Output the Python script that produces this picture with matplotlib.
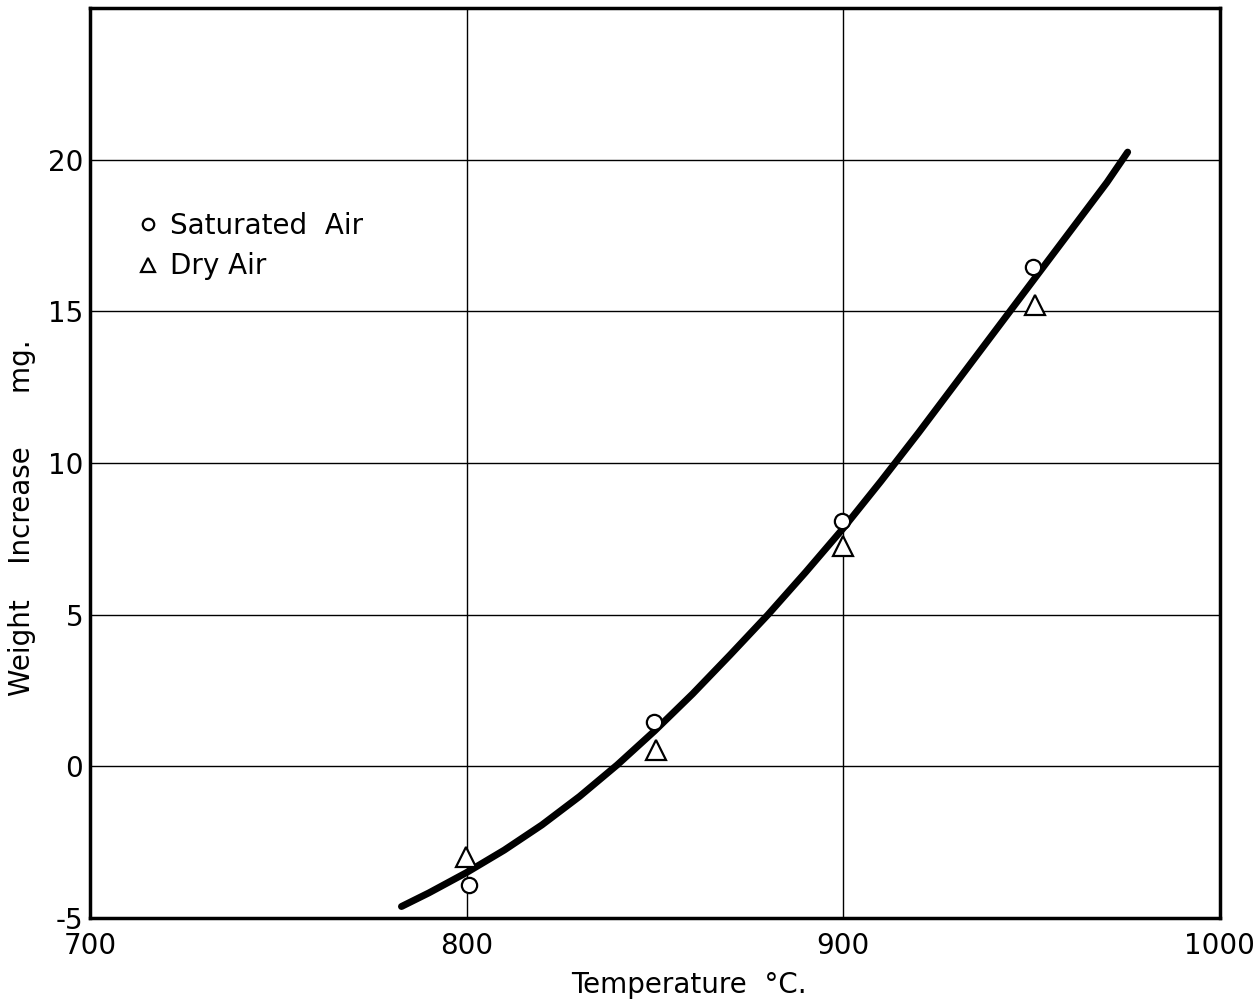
import matplotlib.pyplot as plt
import numpy as np

# measured points
temps_sat = [800.5, 849.8, 899.6, 950.4]
gain_sat = [-3.9, 1.45, 8.1, 16.45]

temps_dry = [799.8, 850.3, 900.0, 950.8]
gain_dry = [-3.0, 0.55, 7.25, 15.2]

# hand-drawn fitted curve
curve_t = [782.7, 790, 800, 810, 820, 830, 840, 850, 860, 870, 880,
           890, 900, 910, 920, 930, 940, 950, 960, 970, 975.5]
curve_w = [-4.62, -4.17, -3.5, -2.76, -1.93, -0.99, 0.05, 1.18, 2.39, 3.68, 5.0,
           6.4, 7.85, 9.4, 11.0, 12.65, 14.3, 15.95, 17.6, 19.25, 20.25]

x_ticks = [700, 800, 900, 1000]
y_ticks = [-5, 0, 5, 10, 15, 20]

plt.rcParams['font.family'] = 'DejaVu Sans'
plt.rcParams['axes.unicode_minus'] = False

fig = plt.figure(figsize=(12.6, 10.02), dpi=100)
ax = fig.add_axes([0.0714, 0.0838, 0.8968, 0.9082])

ax.plot(curve_t, curve_w, color='black', lw=5, solid_capstyle='round',
        solid_joinstyle='round', zorder=3)
ax.plot(temps_sat, gain_sat, 'o', ms=11, mfc='white', mec='black', mew=1.6,
        label='Saturated  Air', zorder=4)
ax.plot(temps_dry, gain_dry, '^', ms=14, mfc='white', mec='black', mew=1.6,
        label='Dry Air', zorder=4)

ax.set_xlim(700, 1000)
ax.set_ylim(-5, 25)
ax.set_xticks(x_ticks)
ax.set_yticks(y_ticks)
ax.tick_params(length=0, labelsize=20)
ax.tick_params(axis='y', pad=5)
ax.tick_params(axis='x', pad=10)
ax.grid(True, color='black', lw=1)

for s in ax.spines.values():
    s.set_linewidth(2.5)

ax.set_xlabel('Temperature  °C.', fontsize=20)
ax.xaxis.set_label_coords(0.53, -0.058)
ax.set_ylabel('Weight    Increase      mg.', fontsize=20)
ax.yaxis.set_label_coords(-0.048, 0.44)

ax.legend(loc='upper left', bbox_to_anchor=(0.044, 0.776), frameon=False,
          fontsize=20, handletextpad=0.5, handlelength=0.6, borderpad=0,
          borderaxespad=0, labelspacing=0.45, markerscale=0.75)

fig.savefig('out.png', dpi=100)
